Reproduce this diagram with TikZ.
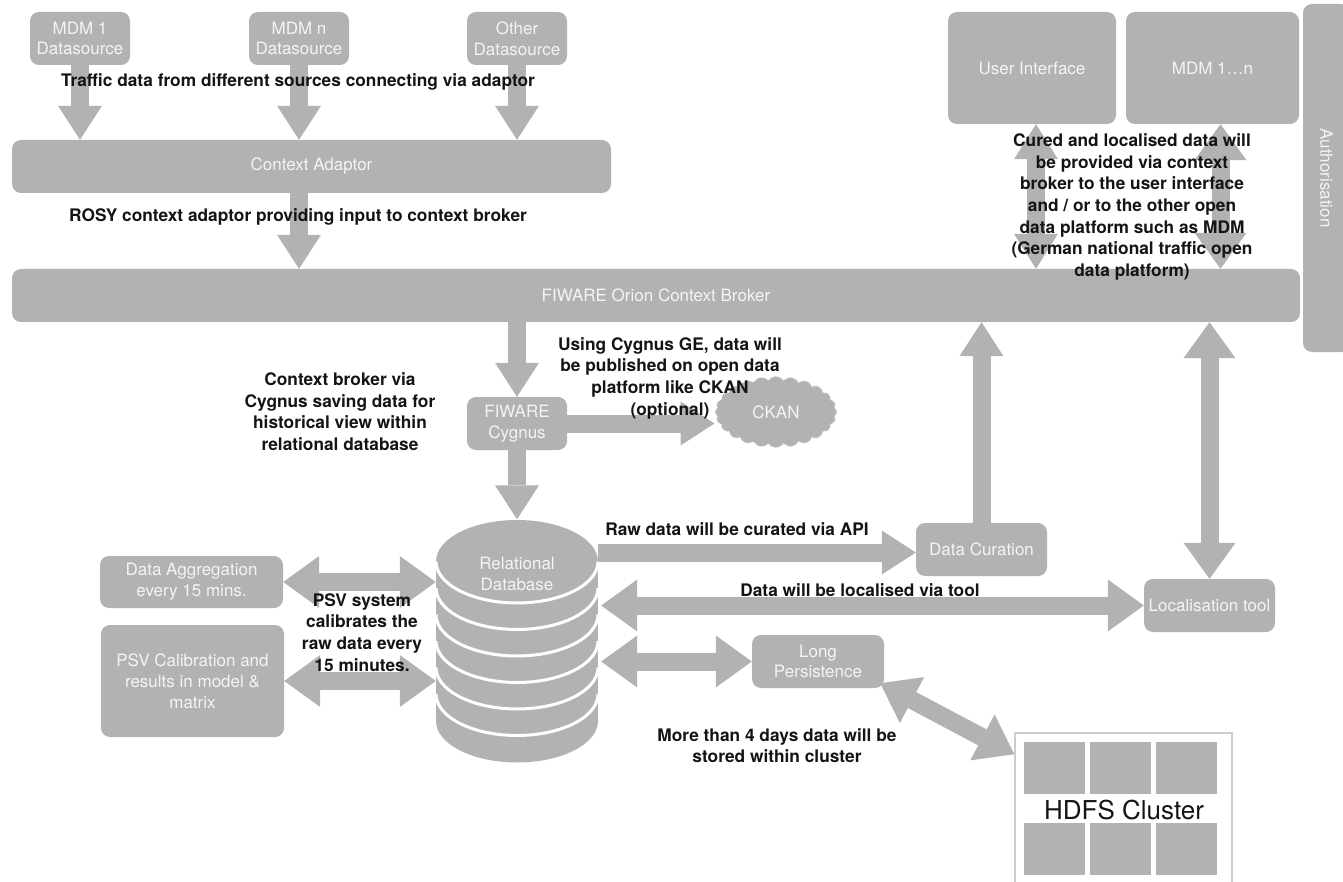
\documentclass[tikz,border=0pt]{standalone}
\usepackage{fontspec}
\setmainfont{TeX Gyre Heros}
\usetikzlibrary{arrows.meta,shapes.symbols}
\definecolor{boxgray}{RGB}{178,178,178}
\definecolor{boxtext}{RGB}{244,244,244}
\definecolor{notetext}{RGB}{20,20,20}
\definecolor{hdfsline}{RGB}{205,205,205}
\newcommand{\boxfont}{\fontsize{17}{20.8}\selectfont}
\newcommand{\notefont}{\fontsize{17.3}{21.7}\selectfont\bfseries}
\tikzset{
  box/.style={fill=boxgray, rounded corners=9pt, text=boxtext, font=\boxfont, align=center, inner sep=0pt},
  note/.style={font=\notefont, text=notetext, align=center, inner sep=0pt},
  fatline/.style={draw=boxgray, line width=18pt},
  fat/.style={fatline, -{Triangle[width=44pt,length=34pt,line width=0pt]}},
  fatbothsm/.style={fatline, {Triangle[width=44pt,length=35pt,line width=0pt]}-{Triangle[width=44pt,length=35pt,line width=0pt]}},
  fatboth/.style={fatline, {Triangle[width=52pt,length=36pt,line width=0pt]}-{Triangle[width=52pt,length=36pt,line width=0pt]}},
  sep/.style={white, line width=3pt},
}

\begin{document}
\begin{tikzpicture}[x=1pt,y=-1pt]
\useasboundingbox (0,0) rectangle (1343,882);
% Sources and adaptor
\node[box, minimum width=100, minimum height=53] (mdm1) at (80,38.5) {MDM 1\\Datasource};
\node[box, minimum width=100, minimum height=53] (mdmn) at (299,38.5) {MDM n\\Datasource};
\node[box, minimum width=100, minimum height=53] (other) at (517,38.5) {Other\\Datasource};
\node[box, minimum width=599, minimum height=53] (adaptor) at (311.5,166.5) {Context Adaptor};
\node[box, minimum width=1288, minimum height=53] (broker) at (656,295.5) {FIWARE Orion Context Broker};
% Consumers
\node[box, minimum width=168, minimum height=112] (ui) at (1032,68) {User Interface};
\node[box, minimum width=173, minimum height=112] (mdmall) at (1212.5,68) {MDM 1…n};
\begin{scope}
\clip (0,0) rectangle (1343,882);
\node[box, rotate=-90, minimum width=348, minimum height=47] (auth) at (1326.5,178) {Authorisation};
\node[draw=hdfsline, line width=1.5pt, minimum width=217, minimum height=170, inner sep=0pt] (hdfs) at (1123.5,818) {};
\end{scope}
% Cygnus and CKAN
\node[box, minimum width=100, minimum height=53] (cygnus) at (517,423.5) {FIWARE\\Cygnus};
\node[cloud, cloud puffs=24, cloud puff arc=110, aspect=1.7, fill=boxgray, draw=white, densely dotted, line width=1pt,
  minimum width=122, minimum height=72, inner sep=0pt, text=boxtext, font=\boxfont] (ckan) at (776,412) {CKAN};
% Relational database
\node[minimum width=162, minimum height=243, inner sep=0pt] (db) at (517,641) {};
\fill[boxgray] (436,561.5) rectangle (598,721);
\fill[boxgray] (517,561.5) ellipse [x radius=81, y radius=41.5];
\fill[boxgray] (517,721) ellipse [x radius=81, y radius=41.5];
\foreach \k in {0,...,5}
  \draw[sep] plot[domain=180:360, samples=40] ({517+81*cos(\x)}, {561.5+26.5*\k-41.5*sin(\x)});
\node[text=boxtext, font=\boxfont, align=center] (dbtext) at (517,574) {Relational\\Database};
% Tools around the database
\node[box, minimum width=131, minimum height=53] (curation) at (981.5,549.5) {Data Curation};
\node[box, minimum width=131, minimum height=53] (local) at (1209.5,605.5) {Localisation tool};
\node[box, minimum width=132, minimum height=53] (lp) at (818,661.5) {Long\\Persistence};
\node[box, minimum width=183, minimum height=52] (agg) at (191.5,582) {Data Aggregation\\every 15 mins.};
\node[box, minimum width=183, minimum height=112] (psv) at (192.5,681) {PSV Calibration and\\results in model \&\\matrix};
% HDFS blocks
\foreach \c in {0,1,2}
  \foreach \r in {0,1}
    \fill[boxgray] ({1024+66*\c},{742+81*\r}) rectangle +(61,52);
\node[text=notetext, font=\fontsize{26}{30}\selectfont] (hdfstext) at (1124,810) {HDFS Cluster};
% Arrows
\draw[fat] (mdm1.south) -- (mdm1.south |- adaptor.north);
\draw[fat] (mdmn.south) -- (mdmn.south |- adaptor.north);
\draw[fat] (other.south) -- (other.south |- adaptor.north);
\draw[fat] (adaptor.south -| mdmn) -- (mdmn |- broker.north);
\draw[fatbothsm] ([xshift=4pt]ui.south) -- ([xshift=4pt]ui.south |- broker.north);
\draw[fatboth] ([xshift=8pt]mdmall.south) -- ([xshift=8pt]mdmall.south |- broker.north);
\draw[fat] (broker.south -| cygnus) -- (cygnus.north);
\draw[fat] (cygnus.east) -- (cygnus.east -| ckan.west);
\draw[fat] (cygnus.south) -- (cygnus.south |- db.north);
\draw[fat] ([yshift=-3pt]curation.west -| db.east) -- ([yshift=-3pt]curation.west);
\draw[fat] (curation.north) -- (curation.north |- broker.south);
\draw[fatboth] (local.north) -- (local.north |- broker.south);
\draw[fatboth] ([xshift=3pt]local.west -| db.east) -- (local.west);
\draw[fatboth] ([xshift=3pt]lp.west -| db.east) -- (lp.west);
\draw[fatboth] ([shift={(-4,-5)}]lp.south east) -- ([yshift=-22pt]hdfs.north west);
\draw[fatboth] (agg.east) -- (agg.east -| db.west);
\draw[fatboth] (psv.east) -- (psv.east -| db.west);
% Notes
\node[note] (ntraffic) at (298,82) {Traffic data from different sources connecting via adaptor};
\node[note] (nrosy) at (298,217) {ROSY context adaptor providing input to context broker};
\node[note] (ncured) at (1132,207) {Cured and localised data will\\be provided via context\\broker to the user interface\\and / or to the other open\\data platform such as MDM\\(German national traffic open\\data platform)};
\node[note] (nhistory) at (340,411.5) {Context broker via\\Cygnus saving data for\\historical view within\\relational database};
\node[note] (nckan) at (670,378) {Using Cygnus GE, data will\\be published on open data\\platform like CKAN\\(optional)};
\node[note] (nraw) at (737,529) {Raw data will be curated via API};
\node[note] (nlocal) at (860,590) {Data will be localised via tool};
\node[note] (npsv) at (362,632.5) {PSV system\\calibrates the\\raw data every\\15 minutes.};
\node[note] (nmore) at (777,745.5) {More than 4 days data will be\\stored within cluster};
\end{tikzpicture}
\end{document}
